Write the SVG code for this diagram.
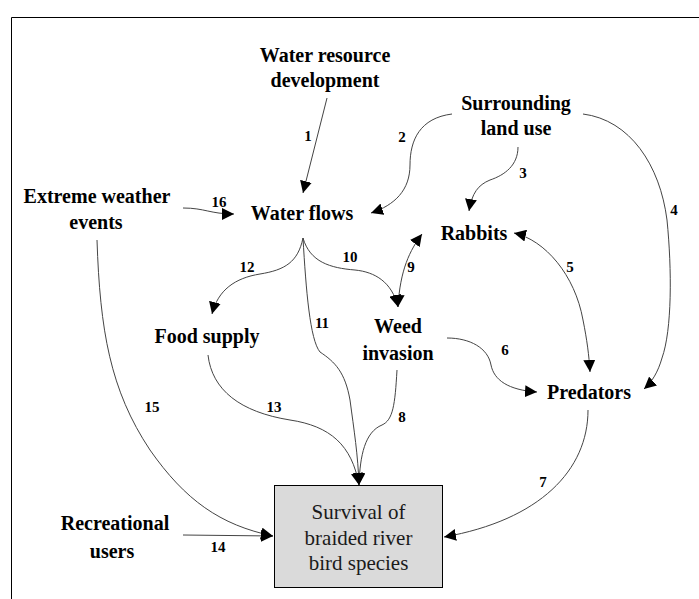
<svg xmlns="http://www.w3.org/2000/svg" width="699" height="599" viewBox="0 0 699 599">
<style>
.n{font-family:"Liberation Serif","Times New Roman",serif;font-weight:bold;font-size:20px;fill:#000;text-anchor:middle}
.b{font-family:"Liberation Serif","Times New Roman",serif;font-size:21px;fill:#1a1a1a;text-anchor:middle}
.l{font-family:"Liberation Serif","Times New Roman",serif;font-weight:bold;font-size:15px;fill:#000;text-anchor:middle}
.c{fill:none;stroke:#444;stroke-width:1}
.a{marker-end:url(#ah)}
.d{marker-start:url(#ah);marker-end:url(#ah)}
</style>
<defs>
<marker id="ah" markerUnits="userSpaceOnUse" markerWidth="13" markerHeight="12" refX="12" refY="6" orient="auto-start-reverse">
<path d="M0,0 L12,6 L0,12 z" fill="#000"/>
</marker>
</defs>
<rect width="699" height="599" fill="#fff"/>
<path d="M11.5,599 V17.5 H699" fill="none" stroke="#000" stroke-width="1"/>

<g id="connectors">
<path class="c a" d="M327,98 L303,193"/>
<path class="c a" d="M183,208 C205,208 210,214 234,214"/>
<path class="c a" d="M452,114 C420,118 410,140 410,165 C410,190 395,205 371,213"/>
<path class="c a" d="M518,147 C518,165 505,175 490,180 C478,185 472,193 469,211"/>
<path class="c a" d="M583,114 C630,120 660,165 667,220 C672,270 672,330 662,358 C658,372 652,382 644,389"/>
<path class="c d" d="M514,233 C545,240 575,275 583,320 C587,340 589,355 590,372"/>
<path class="c a" d="M447,338 C470,338 488,348 491,365 C494,380 508,390 537,392"/>
<path class="c a" d="M588,410 C588,470 540,520 444,537"/>
<path class="c a" d="M397,370 C395,405 393,420 382,425 C365,432 360,455 359,485"/>
<path class="c d" d="M422,234 C410,250 400,270 398,307"/>
<path class="c a" d="M303,238 C310,262 330,268 355,270 C375,272 392,282 398,307"/>
<path class="c a" d="M303,238 C298,262 285,270 260,274 C235,278 218,290 212,314"/>
<path class="c a" d="M303,238 C306,290 310,340 320,352 C335,362 345,372 350,400 C354,430 358,455 359,485"/>
<path class="c a" d="M208,355 C212,390 240,412 290,420 C330,426 352,445 359,485"/>
<path class="c a" d="M97,240 C100,330 110,390 150,450 C185,500 220,525 273,536"/>
<path class="c a" d="M183,535 L273,536"/>
<text class="l" x="308" y="141">1</text>
<text class="l" x="402" y="142">2</text>
<text class="l" x="523" y="178">3</text>
<text class="l" x="674" y="215">4</text>
<text class="l" x="570" y="272">5</text>
<text class="l" x="505" y="355">6</text>
<text class="l" x="543" y="487">7</text>
<text class="l" x="402" y="422">8</text>
<text class="l" x="411" y="272">9</text>
<text class="l" x="350" y="262">10</text>
<text class="l" x="322" y="328">11</text>
<text class="l" x="247" y="272">12</text>
<text class="l" x="274" y="412">13</text>
<text class="l" x="218" y="552">14</text>
<text class="l" x="152" y="412">15</text>
<text class="l" x="219" y="207">16</text>
</g>

<g id="water-resource"><text class="n" x="325" y="62">Water resource</text><text class="n" x="325" y="87">development</text></g>
<g id="surrounding"><text class="n" x="516" y="110">Surrounding</text><text class="n" x="516" y="135">land use</text></g>
<g id="extreme-weather"><text class="n" x="97" y="203">Extreme weather</text><text class="n" x="96" y="229">events</text></g>
<g id="water-flows"><text class="n" x="302" y="220">Water flows</text></g>
<g id="rabbits"><text class="n" x="474" y="240">Rabbits</text></g>
<g id="food-supply"><text class="n" x="207" y="343">Food supply</text></g>
<g id="weed-invasion"><text class="n" x="398" y="333">Weed</text><text class="n" x="398" y="360">invasion</text></g>
<g id="predators"><text class="n" x="589" y="399">Predators</text></g>
<g id="recreational"><text class="n" x="115" y="530">Recreational</text><text class="n" x="112" y="558">users</text></g>
<g id="survival">
<rect x="274.5" y="485.5" width="168" height="102" fill="#dadada" stroke="#000" stroke-width="1"/>
<text class="b" x="358.5" y="519">Survival of</text>
<text class="b" x="358.5" y="545">braided river</text>
<text class="b" x="358.5" y="570">bird species</text>
</g>
</svg>
